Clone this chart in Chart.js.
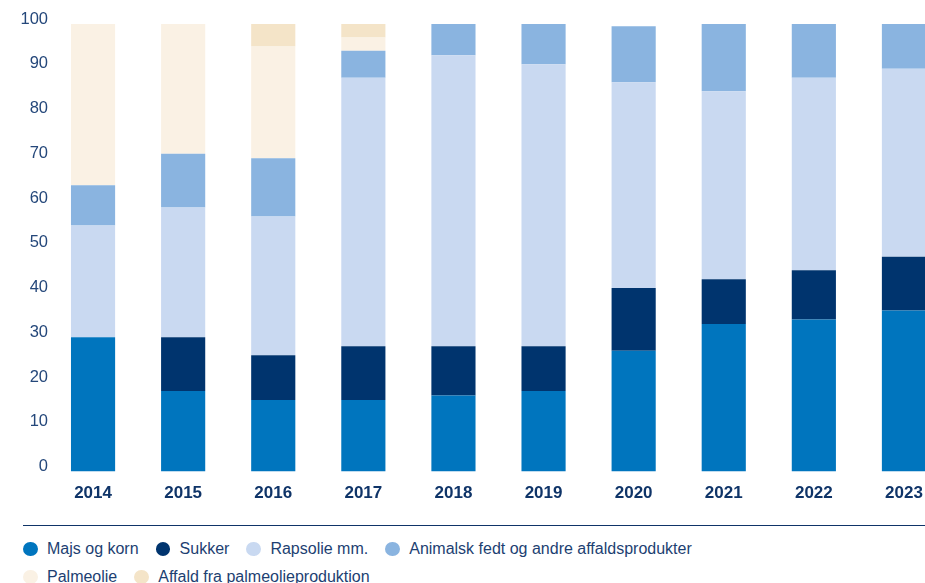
<!DOCTYPE html>
<html>
<head>
<meta charset="utf-8">
<script src="https://cdn.jsdelivr.net/npm/chart.js@4"></script>
<style>
    body { margin: 0; width: 925px; height: 583px; overflow: hidden; background: #fff; position: relative; }
    #chart { position: absolute; left: 0; top: 0; }
    #rule { position: absolute; left: 23px; top: 524.5px; width: 902px; height: 0; border-top: 1.5px solid #0f3468; }
    #legend { position: absolute; left: 23px; top: 537.5px; width: 902px; font-family: "Liberation Sans", sans-serif; font-size: 16px; color: #1d3f72; }
    .row { height: 28.5px; white-space: nowrap; }
    .item { display: inline-flex; align-items: center; height: 22px; margin-right: 17px; }
    .dot { display: inline-block; width: 14.5px; height: 14px; border-radius: 50%; margin-right: 9.5px; }
</style>
</head>
<body>
<canvas id="chart" width="960" height="516"></canvas>
<div id="rule"></div>
<div id="legend"></div>
<script>
let years = ["2014", "2015", "2016", "2017", "2018", "2019", "2020", "2021", "2022", "2023"];
let majs = [30, 18, 16, 16, 17, 18, 27, 33, 34, 36];
let sukker = [0, 12, 10, 12, 11, 10, 14, 10, 11, 12];
let raps = [25, 29, 31, 60, 65, 63, 46, 42, 43, 42];
let animalsk = [9, 12, 13, 6, 7, 9, 12.5, 15, 12, 10];
let palme = [36, 29, 25, 3, 0, 0, 0, 0, 0, 0];
let affald = [0, 0, 5, 3, 0, 0, 0, 0, 0, 0];
let yTicks = [0, 10, 20, 30, 40, 50, 60, 70, 80, 90, 100];

let series = [
    {label: "Majs og korn", data: majs, color: "#0075be"},
    {label: "Sukker", data: sukker, color: "#00346e"},
    {label: "Rapsolie mm.", data: raps, color: "#c9d9f1"},
    {label: "Animalsk fedt og andre affaldsprodukter", data: animalsk, color: "#8ab4e0"},
    {label: "Palmeolie", data: palme, color: "#faf1e4"},
    {label: "Affald fra palmeolieproduktion", data: affald, color: "#f4e4c8"}
];

new Chart(document.getElementById("chart"), {
    type: "bar",
    data: {
        labels: years,
        datasets: series.map(s => ({
            label: s.label,
            data: s.data,
            backgroundColor: s.color,
            borderWidth: 0,
            barPercentage: 1,
            categoryPercentage: 0.49
        }))
    },
    options: {
        responsive: false,
        animation: false,
        layout: {padding: {top: 24, right: 11, left: 0, bottom: 0}},
        plugins: {legend: {display: false}, tooltip: {enabled: false}},
        scales: {
            x: {
                stacked: true,
                grid: {display: false, drawTicks: false},
                border: {display: false},
                ticks: {color: "#0f3468", padding: 12, font: {family: "Liberation Sans", size: 17, weight: "bold"}}
            },
            y: {
                stacked: true,
                min: 0,
                max: 100,
                afterFit: scale => { scale.width = 48; },
                afterBuildTicks: scale => { scale.ticks = yTicks.map(v => ({value: v})); },
                grid: {display: false, drawTicks: false},
                border: {display: false},
                ticks: {color: "#24477a", padding: 0, labelOffset: -5, font: {family: "Liberation Sans", size: 16.5}}
            }
        }
    }
});

// legend as html, two rows like the original
let rows = [series.slice(0, 4), series.slice(4)];
let html = "";
rows.forEach(r => {
    html += '<div class="row">';
    r.forEach(s => {
        html += `<span class="item"><span class="dot" style="background:${s.color}"></span>${s.label}</span>`;
    });
    html += "</div>";
});
document.getElementById("legend").innerHTML = html;
</script>
</body>
</html>
